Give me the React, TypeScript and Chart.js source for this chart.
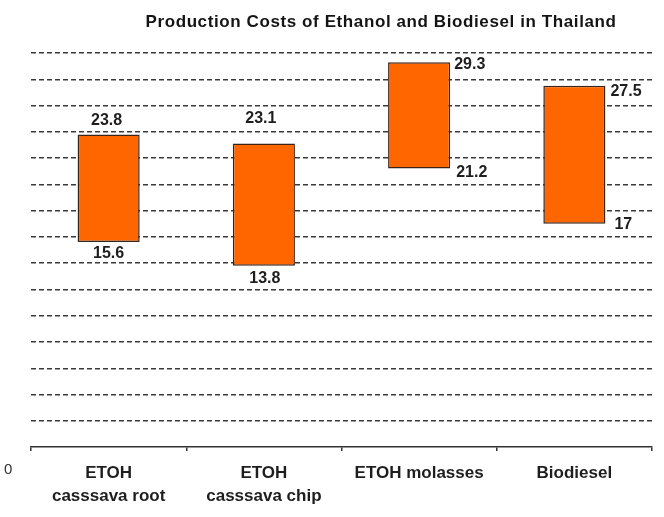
import React, { useEffect, useRef } from "react";
import { Chart, registerables } from "chart.js";

Chart.register(...registerables);

// Production cost ranges (low – high) per feedstock
const categories: string[][] = [
  ["ETOH", "casssava root"],
  ["ETOH", "casssava chip"],
  ["ETOH molasses"],
  ["Biodiesel"],
];
const lowCosts = [15.6, 13.8, 21.2, 17];
const highCosts = [23.8, 23.1, 29.3, 27.5];

const yMin = 0;
const yMax = 30;
const yStep = 2;

const chartTitle = "Production Costs of Ethanol and Biodiesel in Thailand";

// How each bar's value labels sit around it: stacked above/below, or off the right edge
type Placement = { mode: "stack" | "side"; top: [number, number]; bottom: [number, number] };
const labelPlacement: Placement[] = [
  { mode: "stack", top: [-2, -14], bottom: [0, 11] },
  { mode: "stack", top: [-3, -25], bottom: [1, 13] },
  { mode: "side", top: [4, 2], bottom: [6, 4] },
  { mode: "side", top: [5, 6], bottom: [9, 1] },
];

const FONT = '"Liberation Sans", Arial, sans-serif';

const rangeLabels = {
  id: "rangeLabels",
  afterDatasetsDraw(chart: any) {
    const ctx = chart.ctx as CanvasRenderingContext2D;
    const meta = chart.getDatasetMeta(0);
    ctx.save();
    ctx.font = `bold 16px ${FONT}`;
    ctx.fillStyle = "#1e1e1e";
    ctx.textBaseline = "middle";
    meta.data.forEach((bar: any, i: number) => {
      const p = labelPlacement[i];
      const top = Math.min(bar.y, bar.base);
      const bottom = Math.max(bar.y, bar.base);
      const hi = String(highCosts[i]);
      const lo = String(lowCosts[i]);
      if (p.mode === "stack") {
        ctx.textAlign = "center";
        ctx.fillText(hi, bar.x + p.top[0], top + p.top[1]);
        ctx.fillText(lo, bar.x + p.bottom[0], bottom + p.bottom[1]);
      } else {
        const right = bar.x + bar.width / 2;
        ctx.textAlign = "left";
        ctx.fillText(hi, right + p.top[0], top + p.top[1]);
        ctx.fillText(lo, right + p.bottom[0], bottom + p.bottom[1]);
      }
    });
    ctx.restore();
  },
};

const titleAndOrigin = {
  id: "titleAndOrigin",
  afterDraw(chart: any) {
    const ctx = chart.ctx as CanvasRenderingContext2D;
    ctx.save();
    ctx.fillStyle = "#141414";
    ctx.font = `bold 17px ${FONT}`;
    (ctx as any).letterSpacing = "0.6px";
    ctx.textAlign = "center";
    ctx.textBaseline = "middle";
    ctx.fillText(chartTitle, 381, 22);
    (ctx as any).letterSpacing = "0px";
    ctx.font = `15px ${FONT}`;
    ctx.textAlign = "left";
    ctx.fillStyle = "#333";
    ctx.fillText(String(yMin), 4, 470);
    ctx.restore();
  },
};

export default function App() {
  const canvasRef = useRef<HTMLCanvasElement | null>(null);

  useEffect(() => {
    if (!canvasRef.current) return;
    const chart = new Chart(canvasRef.current, {
      type: "bar",
      data: {
        labels: categories,
        datasets: [
          {
            data: lowCosts.map((lo, i) => [lo, highCosts[i]]) as any,
            backgroundColor: "#ff6600",
            borderColor: "#3b2418",
            borderWidth: 1.5,
            borderSkipped: false,
            barPercentage: 0.4,
            categoryPercentage: 1,
          },
        ],
      },
      options: {
        responsive: false,
        animation: false,
        devicePixelRatio: 1,
        layout: { padding: { left: 31, right: 12, top: 53, bottom: 0 } },
        plugins: {
          legend: { display: false },
          tooltip: { enabled: false },
          title: { display: false },
        },
        scales: {
          x: {
            offset: true,
            afterFit: (s: any) => {
              s.height = 70;
            },
            border: { display: true, color: "#333", width: 1.5 },
            grid: {
              offset: true,
              drawOnChartArea: false,
              drawTicks: true,
              tickLength: 4,
              color: "#333",
              lineWidth: 1.5,
            },
            ticks: {
              color: "#1e1e1e",
              font: { family: FONT, size: 17, weight: "bold", lineHeight: 1.35 },
              padding: 11,
              maxRotation: 0,
              autoSkip: false,
            },
          },
          y: {
            min: yMin,
            max: yMax,
            afterFit: (s: any) => {
              s.width = 0;
            },
            border: { display: false, dash: [5, 3] },
            grid: {
              drawTicks: false,
              color: (c: any) => (c.tick && c.tick.value === yMin ? "rgba(0,0,0,0)" : "#3a3a3a"),
              lineWidth: 1.4,
            },
            ticks: { display: false, stepSize: yStep },
          },
        },
      },
      plugins: [rangeLabels, titleAndOrigin],
    });
    return () => chart.destroy();
  }, []);

  return (
    <div style={{ position: "fixed", left: 0, top: 0, width: 664, height: 517, background: "#fff" }}>
      <canvas ref={canvasRef} width={664} height={517} />
    </div>
  );
}
